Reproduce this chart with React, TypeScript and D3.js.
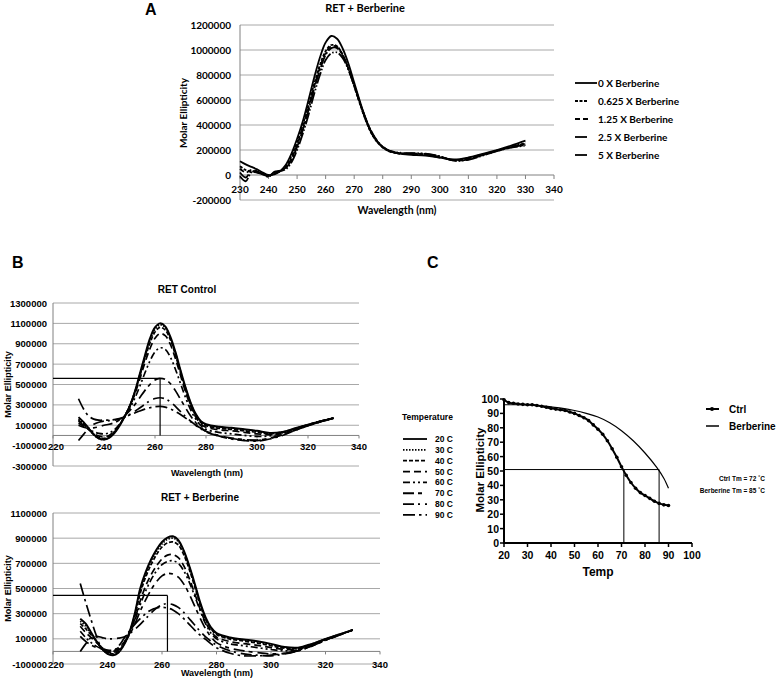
import React from 'react';
import * as d3 from 'd3';

// ---------- Panel A : RET + Berberine titration ----------
const wlA = [230, 232, 234, 236, 238, 240, 242, 244, 246, 248, 250, 252, 254, 256, 258, 260, 262, 264, 266, 268, 270, 272, 274, 276, 278, 280, 282, 284, 286, 288, 290, 295, 300, 305, 310, 315, 320, 325, 330];
const berb0 = [110000, 85000, 65000, 45000, 20000, 0, 5000, 30000, 80000, 170000, 290000, 430000, 600000, 780000, 940000, 1060000, 1112000, 1090000, 1010000, 890000, 740000, 590000, 450000, 340000, 270000, 225000, 195000, 180000, 172000, 166000, 162000, 155000, 140000, 125000, 140000, 170000, 200000, 235000, 275000];
const berb0625 = [70000, 40000, 30000, 20000, 5000, -5000, 10000, 30000, 70000, 150000, 260000, 400000, 560000, 730000, 880000, 990000, 1040000, 1030000, 960000, 850000, 710000, 570000, 440000, 335000, 265000, 220000, 192000, 178000, 170000, 168000, 168000, 160000, 140000, 120000, 135000, 165000, 195000, 225000, 255000];
const berb125 = [50000, 20000, 40000, 30000, 10000, -10000, 20000, 30000, 60000, 130000, 240000, 380000, 540000, 710000, 860000, 975000, 1030000, 1025000, 960000, 850000, 715000, 575000, 445000, 340000, 268000, 222000, 194000, 180000, 172000, 170000, 170000, 165000, 145000, 118000, 130000, 160000, 195000, 225000, 250000];
const berb25 = [20000, -20000, 30000, 25000, 10000, -15000, 25000, 35000, 55000, 120000, 225000, 360000, 520000, 690000, 840000, 960000, 1015000, 1015000, 955000, 850000, 720000, 580000, 450000, 345000, 272000, 225000, 196000, 182000, 175000, 172000, 172000, 168000, 148000, 115000, 125000, 158000, 192000, 222000, 240000];
const berb5 = [-10000, -50000, 20000, 20000, 5000, -10000, 20000, 30000, 45000, 100000, 200000, 330000, 480000, 650000, 800000, 920000, 975000, 980000, 935000, 840000, 715000, 580000, 455000, 350000, 275000, 228000, 198000, 184000, 178000, 175000, 175000, 170000, 150000, 115000, 122000, 155000, 190000, 220000, 235000];
const berbLabels = ['0 X Berberine', '0.625 X Berberine', '1.25 X Berberine', '2.5 X Berberine', '5 X Berberine'];
const yTicksA = [1200000, 1000000, 800000, 600000, 400000, 200000, 0, -200000];
const xTicksA = [230, 240, 250, 260, 270, 280, 290, 300, 310, 320, 330, 340];

// ---------- Panel B : temperature scans ----------
const wlB = [230, 232, 234, 236, 238, 240, 242, 244, 246, 248, 250, 252, 254, 256, 258, 260, 262, 264, 266, 268, 270, 272, 274, 276, 278, 280, 285, 290, 295, 300, 305, 310, 315, 320, 325, 330];
const tempLabels = ['20 C', '30 C', '40 C', '50 C', '60 C', '70 C', '80 C', '90 C'];

const ctl20 = [180000, 130000, 70000, 10000, -30000, -40000, -25000, 20000, 90000, 180000, 280000, 420000, 600000, 780000, 950000, 1060000, 1100000, 1070000, 970000, 820000, 640000, 470000, 320000, 210000, 140000, 110000, 85000, 75000, 60000, 45000, 25000, 35000, 70000, 105000, 140000, 170000];
const ctl30 = [160000, 120000, 60000, 5000, -30000, -40000, -20000, 25000, 95000, 185000, 285000, 420000, 590000, 765000, 930000, 1040000, 1085000, 1060000, 960000, 810000, 630000, 460000, 315000, 205000, 135000, 105000, 80000, 70000, 55000, 40000, 22000, 33000, 70000, 105000, 140000, 170000];
const ctl40 = [150000, 110000, 60000, 10000, -20000, -30000, -10000, 35000, 100000, 185000, 285000, 415000, 580000, 750000, 905000, 1015000, 1060000, 1035000, 940000, 790000, 615000, 445000, 300000, 195000, 125000, 95000, 70000, 60000, 45000, 30000, 15000, 30000, 68000, 104000, 140000, 170000];
const ctl50 = [140000, 100000, 60000, 20000, -5000, -15000, 0, 45000, 105000, 185000, 280000, 400000, 550000, 710000, 850000, 955000, 1000000, 980000, 895000, 755000, 590000, 425000, 285000, 180000, 112000, 80000, 55000, 45000, 30000, 15000, 8000, 28000, 66000, 103000, 140000, 170000];
const ctl60 = [120000, 90000, 60000, 35000, 20000, 15000, 25000, 55000, 105000, 175000, 260000, 360000, 480000, 610000, 730000, 820000, 860000, 845000, 770000, 650000, 510000, 370000, 250000, 160000, 95000, 60000, 30000, 15000, 0, -10000, -5000, 20000, 62000, 100000, 138000, 170000];
const ctl70 = [100000, 80000, 70000, 75000, 85000, 100000, 110000, 125000, 150000, 190000, 240000, 300000, 370000, 440000, 500000, 545000, 560000, 550000, 510000, 440000, 355000, 270000, 190000, 125000, 75000, 40000, 0, -25000, -40000, -45000, -25000, 10000, 55000, 98000, 136000, 170000];
const ctl80 = [-50000, 10000, 70000, 110000, 130000, 140000, 145000, 150000, 160000, 180000, 205000, 235000, 270000, 305000, 340000, 362000, 370000, 360000, 330000, 285000, 235000, 185000, 140000, 100000, 65000, 35000, -5000, -30000, -45000, -50000, -30000, 5000, 52000, 96000, 135000, 170000];
const ctl90 = [360000, 260000, 190000, 160000, 150000, 150000, 150000, 155000, 165000, 180000, 200000, 220000, 240000, 258000, 272000, 282000, 285000, 278000, 260000, 235000, 205000, 170000, 135000, 100000, 70000, 40000, -5000, -35000, -50000, -55000, -35000, 0, 50000, 95000, 133000, 170000];

const brb20 = [260000, 220000, 150000, 80000, 20000, -20000, -30000, -10000, 50000, 150000, 300000, 500000, 630000, 730000, 810000, 870000, 905000, 915000, 885000, 800000, 680000, 540000, 390000, 270000, 190000, 145000, 110000, 95000, 80000, 60000, 35000, 30000, 60000, 100000, 135000, 170000];
const brb30 = [240000, 200000, 140000, 75000, 20000, -15000, -25000, -5000, 55000, 150000, 290000, 480000, 610000, 715000, 795000, 855000, 890000, 900000, 872000, 790000, 670000, 530000, 380000, 262000, 185000, 140000, 105000, 90000, 75000, 55000, 32000, 28000, 58000, 98000, 134000, 170000];
const brb40 = [220000, 180000, 130000, 80000, 30000, -5000, -20000, 0, 60000, 150000, 280000, 460000, 590000, 690000, 770000, 830000, 862000, 870000, 845000, 768000, 652000, 515000, 370000, 255000, 178000, 134000, 98000, 82000, 66000, 45000, 25000, 24000, 56000, 97000, 133000, 170000];
const brb50 = [200000, 150000, 110000, 70000, 30000, 5000, -10000, 10000, 60000, 140000, 255000, 400000, 520000, 610000, 680000, 735000, 765000, 770000, 745000, 680000, 580000, 460000, 335000, 230000, 160000, 115000, 78000, 62000, 48000, 30000, 15000, 18000, 52000, 95000, 132000, 170000];
const brb60 = [160000, 110000, 70000, 40000, 20000, 5000, 0, 20000, 70000, 140000, 245000, 370000, 480000, 570000, 640000, 690000, 715000, 720000, 700000, 640000, 550000, 440000, 325000, 220000, 145000, 100000, 60000, 45000, 30000, 15000, 5000, 12000, 48000, 92000, 131000, 170000];
const brb70 = [120000, 80000, 50000, 30000, 20000, 10000, 10000, 30000, 70000, 130000, 215000, 320000, 410000, 490000, 555000, 600000, 620000, 615000, 590000, 535000, 455000, 360000, 265000, 180000, 115000, 70000, 25000, 5000, -10000, -20000, -15000, 5000, 45000, 90000, 130000, 170000];
const brb80 = [0, 60000, 110000, 120000, 110000, 100000, 100000, 105000, 115000, 140000, 175000, 215000, 260000, 305000, 345000, 370000, 380000, 372000, 350000, 310000, 260000, 210000, 160000, 115000, 80000, 50000, 5000, -20000, -30000, -35000, -20000, 5000, 45000, 90000, 130000, 170000];
const brb90 = [540000, 390000, 250000, 120000, 20000, -10000, 0, 40000, 100000, 160000, 215000, 260000, 300000, 330000, 345000, 350000, 345000, 330000, 300000, 260000, 215000, 170000, 130000, 95000, 60000, 30000, -15000, -35000, -35000, -30000, -15000, 5000, 42000, 88000, 128000, 170000];

const yTicksBTop = [1300000, 1100000, 900000, 700000, 500000, 300000, 100000, -100000, -300000];
const yTicksBBot = [1100000, 900000, 700000, 500000, 300000, 100000, -100000];
const xTicksB = [220, 240, 260, 280, 300, 320, 340];
// half-signal markers
const ctlMark = { wl: 262, value: 560000 };
const brbMark = { wl: 262, value: 445000 };

// ---------- Panel C : melting curves ----------
const tempCtrl = [20, 22, 24, 26, 28, 30, 32, 34, 36, 38, 40, 42, 44, 46, 48, 50, 52, 54, 56, 58, 60, 62, 64, 66, 68, 70, 72, 74, 76, 78, 80, 82, 84, 86, 88, 90];
const ellCtrl = [99.5, 97.5, 97, 96.5, 96.3, 96, 96, 95.5, 95, 94.3, 93.5, 93, 92.5, 92, 91, 90, 88.5, 87, 85, 82, 79, 75.5, 71, 65.5, 59.5, 53, 47, 42, 38, 35, 33, 31, 29, 27.5, 26.5, 26];
const tempBerb = [20, 25, 30, 35, 40, 45, 50, 55, 60, 65, 70, 75, 80, 85, 88, 90];
const ellBerb = [96, 96, 96, 95.5, 94.5, 93.5, 92, 90, 87.5, 83.5, 78, 71, 62.5, 52.5, 45, 38];
const tmCtrl = 71;
const tmBerb = 86;
const halfLevel = 51;
const xTicksC = [20, 30, 40, 50, 60, 70, 80, 90, 100];
const yTicksC = [0, 10, 20, 30, 40, 50, 60, 70, 80, 90, 100];

const fontA = "Lato, 'Open Sans', sans-serif";
const fontB = "'Liberation Sans', Arial, sans-serif";

const dashA = [undefined, '3,1.5', '5,3', '12,2,2,2', '12,2,1.5,2,1.5,2'];
const dashT = [undefined, '1.5,1.5', '4,2', '7,4', '7,3,2,3,2,3', '11,4,4,5', '11,4,2,5', '12,4,2.5,4'];

const smooth = d3.curveCatmullRom.alpha(0.5);

function PanelA() {
  const x = d3.scaleLinear().domain([230, 340]).range([240, 554]);
  const y = d3.scaleLinear().domain([-200000, 1200000]).range([200, 25]);
  const line = d3.line<number>().x((_, i) => x(wlA[i])).y(d => y(d)).curve(smooth);
  const series = [berb0, berb0625, berb125, berb25, berb5];
  const legendY = [83, 101, 119, 137, 155];
  return (
    <g fontFamily={fontA} fontWeight="bold" fill="#000">
      <text x={145} y={15} fontFamily={fontB} fontSize={16}>A</text>
      <text x={365} y={7} fontSize={11} textAnchor="middle" dominantBaseline="central">RET + Berberine</text>
      {yTicksA.map(v => (
        <g key={v}>
          <line x1={240} x2={554} y1={y(v)} y2={y(v)} stroke={v === 0 ? '#808080' : '#a8a8a8'} strokeWidth={1} />
          <text x={231} y={y(v)} fontSize={10} textAnchor="end" dominantBaseline="central">{v}</text>
        </g>
      ))}
      <line x1={240} x2={240} y1={25} y2={200} stroke="#808080" />
      {xTicksA.map(v => (
        <g key={v}>
          <line x1={x(v)} x2={x(v)} y1={y(0)} y2={y(0) + 4} stroke="#808080" />
          <text x={x(v)} y={189} fontSize={10} textAnchor="middle" dominantBaseline="central">{v}</text>
        </g>
      ))}
      <text x={397} y={210} fontSize={10.5} textAnchor="middle" dominantBaseline="central">Wavelength (nm)</text>
      <text transform="translate(183,113) rotate(-90)" fontSize={10} textAnchor="middle" dominantBaseline="central">Molar Ellipticity</text>
      {series.map((s, i) => (
        <path key={i} d={line(s) || ''} fill="none" stroke="#000" strokeWidth={1.8} strokeDasharray={dashA[i]} />
      ))}
      {berbLabels.map((lab, i) => (
        <g key={lab}>
          <line x1={575} x2={i === 0 ? 597 : 588} y1={legendY[i]} y2={legendY[i]} stroke="#000" strokeWidth={1.8} strokeDasharray={dashA[i]} />
          <text x={598} y={legendY[i]} fontSize={10} dominantBaseline="central">{lab}</text>
        </g>
      ))}
    </g>
  );
}

interface SpecProps {
  title: string;
  titleX: number;
  titleY: number;
  series: number[][];
  x0: number; x1: number;
  y0: number; y1: number;
  yMin: number; yMax: number;
  yTicks: number[];
  mark: { wl: number; value: number };
  labelY: number;
  xTitleX: number;
  xTitleY: number;
}

function Spectrum(p: SpecProps) {
  const x = d3.scaleLinear().domain([220, 340]).range([p.x0, p.x1]);
  const y = d3.scaleLinear().domain([p.yMin, p.yMax]).range([p.y1, p.y0]);
  const line = d3.line<number>().x((_, i) => x(wlB[i])).y(d => y(d)).curve(smooth);
  return (
    <g fontFamily={fontB} fontWeight="bold" fill="#000">
      <text x={p.titleX} y={p.titleY} fontSize={10} textAnchor="middle" dominantBaseline="central">{p.title}</text>
      {p.yTicks.map(v => (
        <g key={v}>
          <line x1={p.x0} x2={p.x1} y1={y(v)} y2={y(v)} stroke="#a8a8a8" />
          <text x={47} y={y(v)} fontSize={9.5} textAnchor="end" dominantBaseline="central">{v}</text>
        </g>
      ))}
      <line x1={p.x0} x2={p.x0} y1={p.y0} y2={p.y1} stroke="#808080" />
      <line x1={p.x0} x2={p.x1} y1={y(0)} y2={y(0)} stroke="#808080" />
      {xTicksB.map(v => (
        <g key={v}>
          <line x1={x(v)} x2={x(v)} y1={y(0)} y2={y(0) + 3} stroke="#808080" />
          <text x={x(v) + (v === 220 ? 3 : 0)} y={p.labelY} fontSize={9.5} textAnchor="middle" dominantBaseline="central">{v}</text>
        </g>
      ))}
      <text x={p.xTitleX} y={p.xTitleY} fontSize={9} textAnchor="middle" dominantBaseline="central">Wavelength (nm)</text>
      <text transform={`translate(8,${(p.y0 + p.y1) / 2}) rotate(-90)`} fontSize={9} textAnchor="middle" dominantBaseline="central">Molar Ellipticity</text>
      {p.series.map((s, i) => (
        <path key={i} d={line(s) || ''} fill="none" stroke="#000" strokeWidth={i === 0 ? 2 : 1.7} strokeDasharray={dashT[i]} />
      ))}
      <line x1={p.x0} x2={x(p.mark.wl)} y1={y(p.mark.value)} y2={y(p.mark.value)} stroke="#000" strokeWidth={1.2} />
      <line x1={x(p.mark.wl)} x2={x(p.mark.wl)} y1={y(p.mark.value)} y2={y(0)} stroke="#000" strokeWidth={1.2} />
    </g>
  );
}

function TempLegend() {
  const rowY = tempLabels.map((_, i) => 439 + i * 10.85);
  return (
    <g fontFamily={fontB} fontWeight="bold" fill="#000">
      <text x={402} y={417} fontSize={8.5} dominantBaseline="central">Temperature</text>
      {tempLabels.map((t, i) => (
        <g key={t}>
          <line x1={403} x2={427} y1={rowY[i]} y2={rowY[i]} stroke="#000" strokeWidth={1.8} strokeDasharray={dashT[i]} />
          <text x={435} y={rowY[i]} fontSize={8.5} dominantBaseline="central">{t}</text>
        </g>
      ))}
    </g>
  );
}

function PanelC() {
  const x = d3.scaleLinear().domain([20, 100]).range([504, 692]);
  const y = d3.scaleLinear().domain([0, 100]).range([543, 399]);
  const lineCtrl = d3.line<number>().x((_, i) => x(tempCtrl[i])).y(d => y(d)).curve(smooth);
  const lineBerb = d3.line<number>().x((_, i) => x(tempBerb[i])).y(d => y(d)).curve(smooth);
  return (
    <g fontFamily={fontB} fontWeight="bold" fill="#000">
      <text x={427} y={268} fontSize={16}>C</text>
      {/* reference lines */}
      <line x1={x(20)} x2={x(tmBerb)} y1={y(halfLevel)} y2={y(halfLevel)} stroke="#000" strokeWidth={1} />
      <line x1={x(tmCtrl)} x2={x(tmCtrl)} y1={y(halfLevel)} y2={y(0)} stroke="#000" strokeWidth={1} />
      <line x1={x(tmBerb)} x2={x(tmBerb)} y1={y(halfLevel)} y2={y(0)} stroke="#000" strokeWidth={1} />
      {/* curves */}
      <path d={lineBerb(ellBerb) || ''} fill="none" stroke="#000" strokeWidth={1.2} />
      <path d={lineCtrl(ellCtrl) || ''} fill="none" stroke="#000" strokeWidth={2} />
      {ellCtrl.map((v, i) => (
        <circle key={i} cx={x(tempCtrl[i])} cy={y(v)} r={1.8} fill="#000" />
      ))}
      {/* axes */}
      <line x1={504} x2={504} y1={y(100)} y2={y(0) + 1} stroke="#000" strokeWidth={2} />
      <line x1={503} x2={692} y1={543} y2={543} stroke="#000" strokeWidth={2} />
      {yTicksC.map(v => (
        <g key={v}>
          <line x1={500} x2={504} y1={y(v)} y2={y(v)} stroke="#000" strokeWidth={1.5} />
          <text x={499} y={y(v)} fontSize={10.5} textAnchor="end" dominantBaseline="central">{v}</text>
        </g>
      ))}
      {xTicksC.map(v => (
        <g key={v}>
          <line x1={x(v)} x2={x(v)} y1={543} y2={547} stroke="#000" strokeWidth={1.5} />
          <text x={x(v)} y={555} fontSize={10.5} textAnchor="middle" dominantBaseline="central">{v}</text>
        </g>
      ))}
      <text x={598} y={572} fontSize={12} textAnchor="middle" dominantBaseline="central">Temp</text>
      <text transform="translate(480,470) rotate(-90)" fontSize={11.5} textAnchor="middle" dominantBaseline="central">Molar Ellipticity</text>
      {/* legend */}
      <line x1={706} x2={719} y1={409} y2={409} stroke="#000" strokeWidth={2} />
      <circle cx={712} cy={409} r={2} fill="#000" />
      <text x={729} y={409} fontSize={10} dominantBaseline="central">Ctrl</text>
      <line x1={706} x2={719} y1={426} y2={426} stroke="#000" strokeWidth={1.5} />
      <text x={729} y={426} fontSize={10} dominantBaseline="central">Berberine</text>
      <text x={765} y={478} fontSize={6.5} textAnchor="end" dominantBaseline="central">Ctrl Tm = 72 ˚C</text>
      <text x={765} y={490} fontSize={6.5} textAnchor="end" dominantBaseline="central">Berberine Tm = 85 ˚C</text>
    </g>
  );
}

export default function App() {
  return (
    <div style={{ position: 'absolute', left: 0, top: 0, background: '#fff' }}>
      <svg width={778} height={679} style={{ display: 'block' }}>
        <rect width={778} height={679} fill="#fff" />
        <PanelA />
        <text x={12} y={268} fontFamily={fontB} fontWeight="bold" fontSize={16}>B</text>
        <Spectrum
          title="RET Control" titleX={187} titleY={289}
          series={[ctl20, ctl30, ctl40, ctl50, ctl60, ctl70, ctl80, ctl90]}
          x0={53} x1={359} y0={303} y1={466} yMin={-300000} yMax={1300000}
          yTicks={yTicksBTop} mark={ctlMark} labelY={446} xTitleX={207} xTitleY={473}
        />
        <Spectrum
          title="RET + Berberine" titleX={200} titleY={497}
          series={[brb20, brb30, brb40, brb50, brb60, brb70, brb80, brb90]}
          x0={53} x1={380} y0={513} y1={664} yMin={-100000} yMax={1100000}
          yTicks={yTicksBBot} mark={brbMark} labelY={664} xTitleX={217} xTitleY={673}
        />
        <TempLegend />
        <PanelC />
      </svg>
    </div>
  );
}
